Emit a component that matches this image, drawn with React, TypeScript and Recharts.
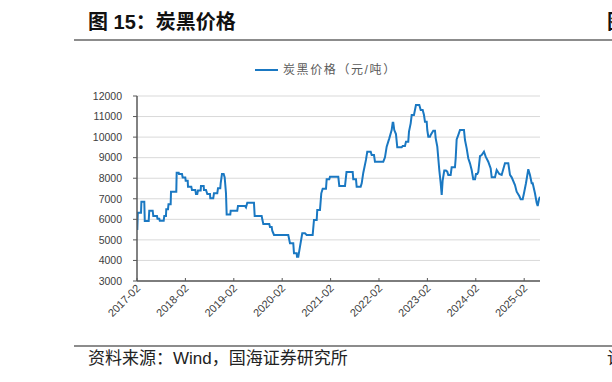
import React from 'react';
import { LineChart, Line, XAxis, YAxis, CartesianGrid } from 'recharts';

const title = '图 15：炭黑价格';
const source = '资料来源：Wind，国海证券研究所';
const seriesName = '炭黑价格（元/吨）';
const tickLabels = ['2017-02', '2018-02', '2019-02', '2020-02', '2021-02', '2022-02', '2023-02', '2024-02', '2025-02'];
const yTicks = [3000, 4000, 5000, 6000, 7000, 8000, 9000, 10000, 11000, 12000];

// time in decimal years
const times = [
  2017.089, 2017.100, 2017.166, 2017.174, 2017.234, 2017.244, 2017.325, 2017.337, 2017.407, 2017.420,
  2017.496, 2017.507, 2017.544, 2017.554, 2017.635, 2017.647, 2017.682, 2017.688, 2017.724, 2017.734,
  2017.779, 2017.786, 2017.895, 2017.903, 2017.945, 2017.951, 2018.013, 2018.027, 2018.081, 2018.089,
  2018.131, 2018.137, 2018.205, 2018.219, 2018.288, 2018.302, 2018.329, 2018.343, 2018.399, 2018.405,
  2018.461, 2018.467, 2018.509, 2018.536, 2018.591, 2018.598, 2018.659, 2018.674, 2018.742, 2018.757,
  2018.804, 2018.812, 2018.839, 2018.874, 2018.895, 2018.922, 2018.936, 2019.011, 2019.019, 2019.155,
  2019.170, 2019.314, 2019.335, 2019.362, 2019.500, 2019.515, 2019.659, 2019.672, 2019.693, 2019.816,
  2019.831, 2019.866, 2019.878, 2019.914, 2020.209, 2020.244, 2020.312, 2020.327, 2020.383, 2020.389,
  2020.416, 2020.451, 2020.498, 2020.554, 2020.589, 2020.713, 2020.740, 2020.796, 2020.808, 2020.864,
  2020.891, 2020.920, 2020.988, 2021.002, 2021.056, 2021.071, 2021.242, 2021.263, 2021.381, 2021.412,
  2021.540, 2021.552, 2021.608, 2021.622, 2021.705, 2021.726, 2021.759, 2021.814, 2021.841, 2021.912,
  2021.932, 2021.980, 2022.000, 2022.172, 2022.207, 2022.242, 2022.296, 2022.345, 2022.366, 2022.379,
  2022.399, 2022.434, 2022.461, 2022.552, 2022.573, 2022.620, 2022.641, 2022.688, 2022.703, 2022.738,
  2022.759, 2022.806, 2022.847, 2022.916, 2022.945, 2022.986, 2023.013, 2023.033, 2023.069, 2023.081,
  2023.102, 2023.137, 2023.151, 2023.205, 2023.240, 2023.255, 2023.288, 2023.329, 2023.358, 2023.379,
  2023.399, 2023.432, 2023.467, 2023.494, 2023.515, 2023.564, 2023.585, 2023.653, 2023.668, 2023.688,
  2023.721, 2023.757, 2023.839, 2023.860, 2023.895, 2023.928, 2023.963, 2023.998, 2024.031, 2024.067,
  2024.087, 2024.114, 2024.135, 2024.170, 2024.205, 2024.252, 2024.288, 2024.341, 2024.391, 2024.412,
  2024.480, 2024.515, 2024.569, 2024.618, 2024.651, 2024.686, 2024.755, 2024.790, 2024.825, 2024.893,
  2024.928, 2024.982, 2025.011, 2025.052, 2025.079, 2025.120, 2025.168, 2025.203, 2025.238, 2025.259,
  2025.306, 2025.341, 2025.362, 2025.389, 2025.409,
];

const prices = [
  5480, 6320, 6320, 6860, 6860, 5920, 5920, 6420, 6420, 6165,
  6165, 6030, 6030, 5935, 5935, 6165, 6165, 6490, 6490, 6730,
  6730, 7345, 7345, 8270, 8270, 8205, 8205, 8040, 8040, 7880,
  7880, 7590, 7590, 7430, 7430, 7235, 7235, 7400, 7400, 7620,
  7620, 7430, 7430, 7235, 7235, 7020, 7020, 7270, 7270, 7510,
  7510, 7750, 8205, 8205, 8040, 7270, 6230, 6230, 6420, 6420,
  6650, 6650, 6580, 6810, 6810, 6165, 6165, 6000, 5775, 5775,
  5630, 5630, 5450, 5240, 5240, 4835, 4835, 4345, 4345, 4185,
  4185, 4670, 5320, 5320, 5240, 5240, 5970, 5970, 6455, 6455,
  7265, 7490, 7490, 7945, 7945, 8075, 8075, 7620, 7620, 8300,
  8300, 7945, 7945, 7590, 7590, 7750, 8270, 8890, 9290, 9290,
  9130, 9130, 8805, 8805, 9015, 9535, 9940, 10345, 10700, 10700,
  10345, 10150, 9505, 9505, 9570, 9570, 9780, 9780, 10265, 10670,
  11075, 11075, 11560, 11560, 11320, 11320, 11075, 10750, 10750, 10345,
  10020, 10020, 10100, 10310, 10310, 9940, 9535, 8400, 7755, 7185,
  7900, 8370, 8370, 8320, 8160, 8160, 8530, 8530, 8970, 9890,
  10100, 10345, 10345, 9860, 9455, 8970, 8725, 8400, 7950, 7950,
  8205, 8205, 8300, 9080, 9130, 9290, 9050, 8805, 8480, 8045,
  8045, 8400, 8205, 8160, 8435, 8725, 8725, 8160, 8045, 7670,
  7345, 7135, 6975, 6975, 7270, 7755, 8435, 8160, 7755, 7755,
  7270, 6810, 6650, 6970, 7100,
];

const data = times.map((t, i) => ({ t, price: prices[i] }));
const xTicks = tickLabels.map((s) => {
  const [y, m] = s.split('-').map(Number);
  return y + (m - 1) / 12;
});
const xDomain = [xTicks[0], 2025.41];

const LINE_COLOR = '#1a78c2';
const AXIS_COLOR = '#595959';
const LABEL_COLOR = '#404040';
const NUM_FONT = '"Liberation Sans", Arial, sans-serif';
const CJK_FONT = '"Liberation Sans", Arial, "Noto Sans CJK SC", sans-serif';

const XTick = (props: any) => {
  const { x, y, payload } = props;
  const idx = xTicks.findIndex((v) => Math.abs(v - payload.value) < 1e-6);
  const label = idx >= 0 ? tickLabels[idx] : '';
  const tx = x + 4;
  const ty = y + 8;
  return (
    <g>
      <line x1={x} x2={x} y1={y - 3} y2={y} stroke={AXIS_COLOR} strokeWidth={1} />
      <text x={tx} y={ty} transform={`rotate(-45, ${tx}, ${ty})`} textAnchor="end" fontSize={11} fill={LABEL_COLOR} fontFamily={NUM_FONT}>
        {label}
      </text>
    </g>
  );
};

export default function App() {
  return (
    <div style={{ position: 'absolute', left: 0, top: 0, width: 612, height: 382, overflow: 'hidden', background: '#fff' }}>
      <div style={{ position: 'absolute', left: 88, top: 8, fontSize: 20, fontWeight: 'bold', fontFamily: CJK_FONT, color: '#111', whiteSpace: 'nowrap', lineHeight: '28px' }}>
        {title}
      </div>
      <div style={{ position: 'absolute', left: 607, top: 8, fontSize: 20, fontWeight: 'bold', fontFamily: CJK_FONT, color: '#111', lineHeight: '28px' }}>图</div>
      <div style={{ position: 'absolute', left: 74, top: 39, width: 538, height: 2, background: '#8c8c8c' }} />
      <div style={{ position: 'absolute', left: 74, top: 345, width: 538, height: 2, background: '#8c8c8c' }} />
      <div style={{ position: 'absolute', left: 88, top: 348, fontSize: 17, fontFamily: CJK_FONT, color: '#222', whiteSpace: 'nowrap', lineHeight: '22px' }}>
        {source}
      </div>
      <div style={{ position: 'absolute', left: 607, top: 348, fontSize: 17, fontFamily: CJK_FONT, color: '#222', lineHeight: '22px' }}>请</div>
      <div style={{ position: 'absolute', left: 255, top: 61, display: 'flex', alignItems: 'center', whiteSpace: 'nowrap' }}>
        <svg width={24} height={18}>
          <line x1={0} x2={23} y1={9} y2={9} stroke={LINE_COLOR} strokeWidth={2} />
        </svg>
        <span style={{ marginLeft: 4, fontSize: 12, letterSpacing: 1.6, fontFamily: CJK_FONT, color: '#595959', lineHeight: '18px' }}>{seriesName}</span>
      </div>
      <div style={{ position: 'absolute', left: 0, top: 0 }}>
        <LineChart width={612} height={382} data={data} margin={{ top: 96, right: 72, bottom: 41, left: 77 }}>
          <CartesianGrid horizontal vertical={false} stroke="#d9d9d9" strokeWidth={1} />
          <XAxis
            dataKey="t"
            type="number"
            domain={xDomain}
            ticks={xTicks}
            interval={0}
            height={60}
            tickLine={false}
            tickSize={0}
            tickMargin={0}
            axisLine={{ stroke: AXIS_COLOR, strokeWidth: 1.5 }}
            tick={<XTick />}
            allowDataOverflow
          />
          <YAxis
            type="number"
            domain={[3000, 12000]}
            ticks={yTicks}
            interval={0}
            width={60}
            tickSize={4}
            tickMargin={11}
            tickLine={{ stroke: AXIS_COLOR }}
            axisLine={{ stroke: AXIS_COLOR, strokeWidth: 1.5 }}
            tick={{ fontSize: 10.5, fill: LABEL_COLOR, fontFamily: NUM_FONT }}
          />
          <Line
            type="linear"
            dataKey="price"
            name={seriesName}
            stroke={LINE_COLOR}
            strokeWidth={2}
            dot={false}
            isAnimationActive={false}
          />
        </LineChart>
      </div>
    </div>
  );
}
